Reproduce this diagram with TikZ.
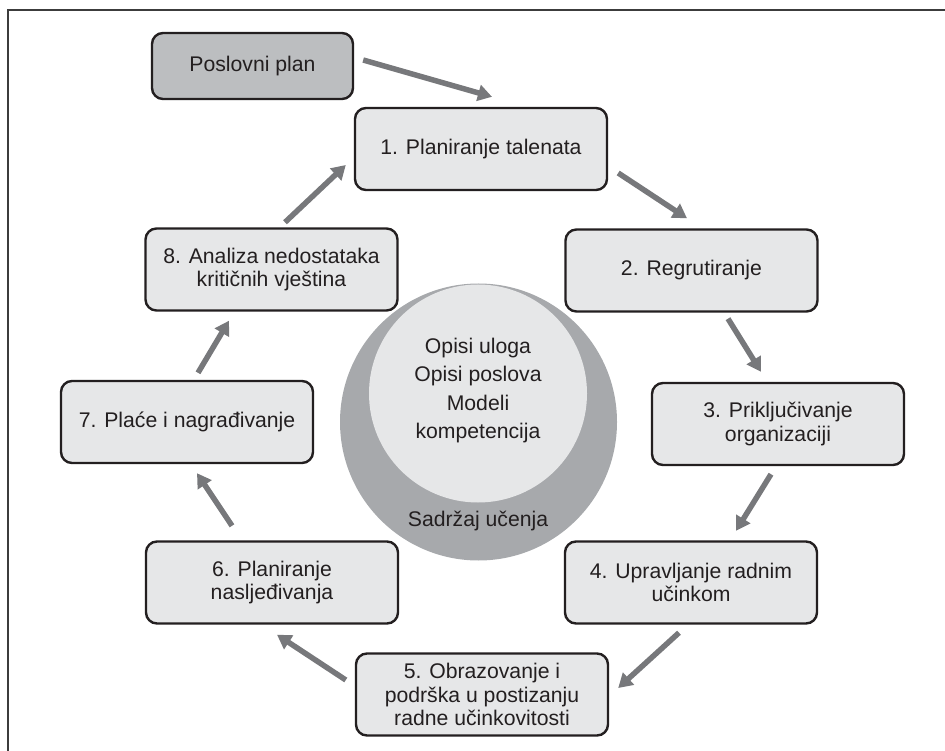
\documentclass[tikz,border=0pt]{standalone}
\usepackage{fontspec}
\setmainfont{Liberation Sans}
\usetikzlibrary{arrows.meta}
\definecolor{boxfill}{HTML}{E6E7E8}
\definecolor{ppfill}{HTML}{BCBEC0}
\definecolor{ringgray}{HTML}{A7A9AC}
\definecolor{arrgray}{HTML}{77787B}
\definecolor{ink}{HTML}{231F20}
\definecolor{framegray}{HTML}{3C3C3C}
\begin{document}
\begin{tikzpicture}[x=1pt,y=-1pt,
  stepbox/.style={draw=ink, line width=2.4pt, fill=boxfill, rounded corners=11pt,
    minimum width=252pt, minimum height=82pt, inner sep=0pt, align=center,
    text=ink, font=\fontsize{21.2}{23.5}\selectfont},
  planbox/.style={stepbox, fill=ppfill, minimum width=201pt, minimum height=66pt},
  arr/.style={draw=arrgray, line width=5.5pt, -{Triangle[width=16pt,length=14pt]}}
]
\useasboundingbox (0,0) rectangle (945,751);
\draw[framegray, line width=2pt] (8,751) -- (8,10.5) -- (945,10.5);

% centre circle
\node[circle, fill=ringgray, minimum size=277pt, inner sep=0pt] (outer) at (478.5,422) {};
\node[circle, fill=boxfill, minimum size=218pt, inner sep=0pt] (inner) at (478,393.5) {};
\node[align=center, text=ink, font=\fontsize{21.2}{28.5}\selectfont] (itxt) at (478,390.5)
  {Opisi uloga\\Opisi poslova\\Modeli\\kompetencija};
\node[text=ink, font=\fontsize{21.2}{23.5}\selectfont] (otxt) at (478,521) {Sadržaj učenja};

% boxes
\node[planbox] (pp) at (252.5,66) {Poslovni plan};
\node[stepbox] (b1) at (481,149) {1. Planiranje talenata};
\node[stepbox] (b2) at (691.5,270.5) {2. Regrutiranje};
\node[stepbox] (b3) at (778,424) {3. Priključivanje\\organizaciji};
\node[stepbox] (b4) at (691,582.5) {4. Upravljanje radnim\\učinkom};
\node[stepbox] (b5) at (482,694.5) {5. Obrazovanje i\\podrška u postizanju\\radne učinkovitosti};
\node[stepbox] (b6) at (272,582.5) {6. Planiranje\\nasljeđivanja};
\node[stepbox] (b7) at (187,422) {7. Plaće i nagrađivanje};
\node[stepbox] (b8) at (271.5,269.5) {8. Analiza nedostataka\\kritičnih vještina};

% arrows
\draw[arr] ([shift={(9,-6)}]pp.east) -- ([shift={(11,-10)}]b1.north);
\draw[arr] ([shift={(10,24)}]b1.east) -- ([shift={(-4.5,-10)}]b2.north);
\draw[arr] ([shift={(36.5,6)}]b2.south) -- ([shift={(-17,-10)}]b3.north);
\draw[arr] ([shift={(-7,8)}]b3.south) -- ([shift={(45,-9.5)}]b4.north);
\draw[arr] ([shift={(-12,8)}]b4.south) -- ([shift={(9,-6.5)}]b5.east);
\draw[arr] ([shift={(-9,-14.5)}]b5.west) -- ([shift={(5,10)}]b6.south);
\draw[arr] ([shift={(-40,-14.5)}]b6.north) -- ([shift={(10,9)}]b7.south);
\draw[arr] ([shift={(11,-7)}]b7.north) -- ([shift={(-42.5,9)}]b8.south);
\draw[arr] ([shift={(13.5,-5)}]b8.north) -- ([shift={(-8,16)}]b1.west);
\end{tikzpicture}
\end{document}
